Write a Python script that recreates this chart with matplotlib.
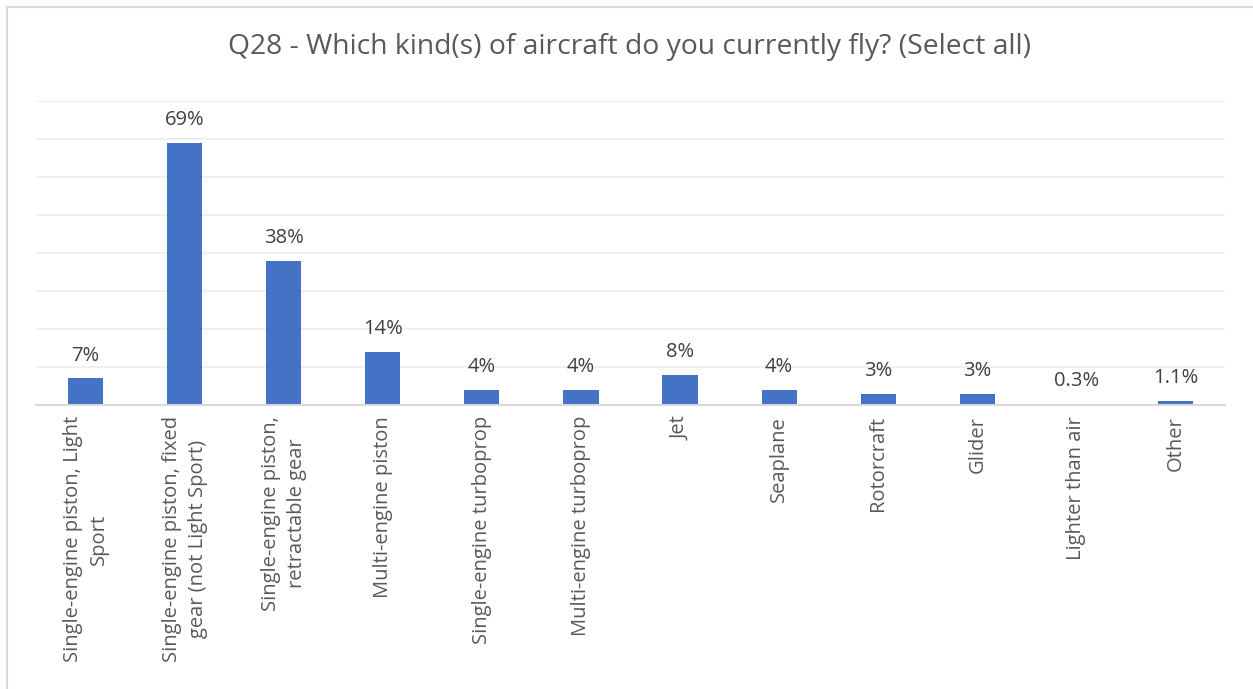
import matplotlib
matplotlib.use("Agg")
import matplotlib.pyplot as plt
from matplotlib.patches import Rectangle

# ============================================================
# Data
# ============================================================
categories = [
    "Single-engine piston, Light\nSport",
    "Single-engine piston, fixed\ngear (not Light Sport)",
    "Single-engine piston,\nretractable gear",
    "Multi-engine piston",
    "Single-engine turboprop",
    "Multi-engine turboprop",
    "Jet",
    "Seaplane",
    "Rotorcraft",
    "Glider",
    "Lighter than air",
    "Other",
]
values = [7, 69, 38, 14, 4, 4, 8, 4, 3, 3, 0.3, 1.1]
value_labels = ["7%", "69%", "38%", "14%", "4%", "4%", "8%", "4%", "3%", "3%", "0.3%", "1.1%"]
title = "Q28 - Which kind(s) of aircraft do you currently fly? (Select all)"

# ============================================================
# Style
# ============================================================
plt.rcParams['font.family'] = ['Open Sans', 'DejaVu Sans']
W, H = 1253, 689
bar_color = '#4472C4'
grid_color = '#EDEDED'
axis_color = '#D9D9D9'
text_color = '#595959'

fig = plt.figure(figsize=(W / 100, H / 100), dpi=100)

# chart-area border (right/bottom are cropped in the reference)
fig.patches.append(Rectangle((7 / W, -0.1), 1.2, 1 - 7 / H + 0.1,
                             transform=fig.transFigure, fill=False,
                             edgecolor=axis_color, linewidth=1.5))

ax = fig.add_axes([36 / W, 1 - 405 / H, (1225 - 36) / W, (405 - 101) / H])

x = range(len(categories))
ax.bar(x, values, width=0.355, color=bar_color, zorder=3)

for xi, v, lab in zip(x, values, value_labels):
    ax.annotate(lab, (xi, v), xytext=(0, 9), textcoords='offset points',
                ha='center', va='bottom', fontsize=14.5, color='#404040')

ax.set_xlim(-0.5, len(categories) - 0.5)
ax.set_ylim(0, 80)
ax.set_yticks(range(0, 81, 10))
ax.yaxis.grid(True, color=grid_color, linewidth=1.2, zorder=0)
ax.tick_params(axis='y', left=False, labelleft=False)
ax.tick_params(axis='x', length=0, pad=8)
ax.set_xticks(list(x))
ax.set_xticklabels(categories, rotation=90, ha='center', va='top',
                   fontsize=14.5, color=text_color, multialignment='center',
                   linespacing=1.4)

for s in ['top', 'right', 'left']:
    ax.spines[s].set_visible(False)
ax.spines['bottom'].set_color(axis_color)
ax.spines['bottom'].set_linewidth(1.5)
ax.spines['bottom'].set_zorder(4)

fig.text(629 / W, 1 - 47 / H, title, ha='center', va='center',
         fontsize=20.3, color=text_color)

fig.savefig('out.png', dpi=100)
